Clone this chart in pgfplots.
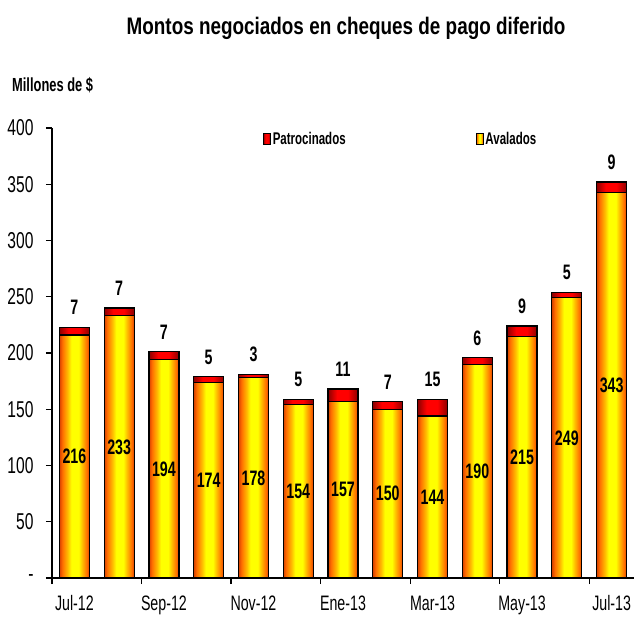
\documentclass[border=0pt]{standalone}
\usepackage{pgfplots}
\pgfplotsset{compat=1.18}
\usepackage{pgfplotstable}
\usepackage{fontspec}
\setmainfont{Liberation Sans}[FakeStretch=0.68]
\newfontfamily\titlefont{Liberation Sans}[FakeStretch=0.79]
\definecolor{orgE}{RGB}{215,65,0}
\definecolor{orgA}{RGB}{255,110,0}
\definecolor{orgB}{RGB}{255,190,0}
\definecolor{yelC}{RGB}{255,255,0}
\definecolor{redE}{RGB}{140,0,0}
\definecolor{redC}{RGB}{255,0,0}
\pgfdeclarehorizontalshading{yelshade}{100bp}{color(0bp)=(orgE); color(25bp)=(orgE); color(30bp)=(orgA); color(39bp)=(orgB); color(45bp)=(yelC); color(57bp)=(yelC); color(63bp)=(orgB); color(71bp)=(orgA); color(75bp)=(orgE); color(100bp)=(orgE)}
\pgfdeclarehorizontalshading{redshade}{100bp}{color(0bp)=(redE); color(25bp)=(redE); color(40bp)=(redC); color(58bp)=(redC); color(75bp)=(redE); color(100bp)=(redE)}
\pgfplotstableread{
x a p
0 216 7
1 233 7
2 194 7
3 174 5
4 178 3
5 154 5
6 157 11
7 150 7
8 144 15
9 190 6
10 215 9
11 249 5
12 343 9
}\datatable
\pgfplotsset{
  mybar/.style={ybar, bar width=30bp, bar shift=0pt, draw=black, line width=1.2bp,
    legend image code/.code={\draw[##1, line width=0.8bp] (0bp,-5bp) rectangle (7bp,6bp);}},
  redbar/.style={mybar, shade, shading=redshade},
  yelbar/.style={mybar, shade, shading=yelshade},
}
\begin{document}
\begin{tikzpicture}
\begin{axis}[
  scale only axis, width=582bp, height=450bp,
  xmin=-0.5, xmax=12.5, ymin=0, ymax=400,
  axis x line=bottom, axis y line=left,
  axis line style={-, line width=1.6bp, black},
  tick align=outside, major tick length=6bp,
  tick style={black, line width=1.2bp},
  xtick={-0.5,1.5,3.5,5.5,7.5,9.5,11.5},
  xticklabels={Jul-12,Sep-12,Nov-12,Ene-13,Mar-13,May-13,Jul-13},
  xticklabel style={xshift=22.4bp, yshift=-8bp, font=\fontsize{21}{21}\selectfont},
  ytick={0,50,...,400},
  yticklabels={-,50,100,150,200,250,300,350,400},
  yticklabel style={xshift=-9bp, font=\fontsize{23}{23}\selectfont},
  /pgf/number format/assume math mode=true,
  legend columns=2,
  legend style={draw=none, fill=none, at={(rel axis cs:0.357,1)}, anchor=north west,
    font=\bfseries\fontsize{17}{17}\selectfont,
    /tikz/column 2/.style={column sep=128bp}},
  clip=false,
]
\addlegendimage{redbar}
\addlegendentry{Patrocinados}
\addlegendimage{yelbar}
\addlegendentry{Avalados}
\pgfplotsinvokeforeach{0,...,12}{
  \addplot[redbar, forget plot, restrict x to domain=#1:#1]
    table[x=x, y expr=\thisrow{a}+\thisrow{p}] {\datatable};
  \addplot[yelbar, forget plot, restrict x to domain=#1:#1]
    table[x=x, y=a] {\datatable};
}
\addplot[draw=none, mark=none, forget plot, nodes near coords, point meta=explicit symbolic,
  every node near coord/.append style={anchor=center, inner sep=0pt,
    font=\bfseries\fontsize{21}{21}\selectfont}]
  table[x=x, y expr=\thisrow{a}/2, meta=a] {\datatable};
\addplot[draw=none, mark=none, forget plot, nodes near coords, point meta=explicit symbolic,
  every node near coord/.append style={anchor=south, inner sep=0pt, yshift=12bp,
    font=\bfseries\fontsize{21}{21}\selectfont}]
  table[x=x, y expr=\thisrow{a}+\thisrow{p}, meta=p] {\datatable};
\end{axis}
\node[font=\titlefont\bfseries\fontsize{24}{24}\selectfont] at (294bp,550bp) {Montos negociados en cheques de pago diferido};
\node[anchor=west, inner sep=0pt, font=\bfseries\fontsize{19}{19}\selectfont] at (-40bp,493bp) {Millones de \$};
\pgfresetboundingbox
\path (-52bp,-41bp) rectangle (582bp,578bp);
\end{tikzpicture}
\end{document}
